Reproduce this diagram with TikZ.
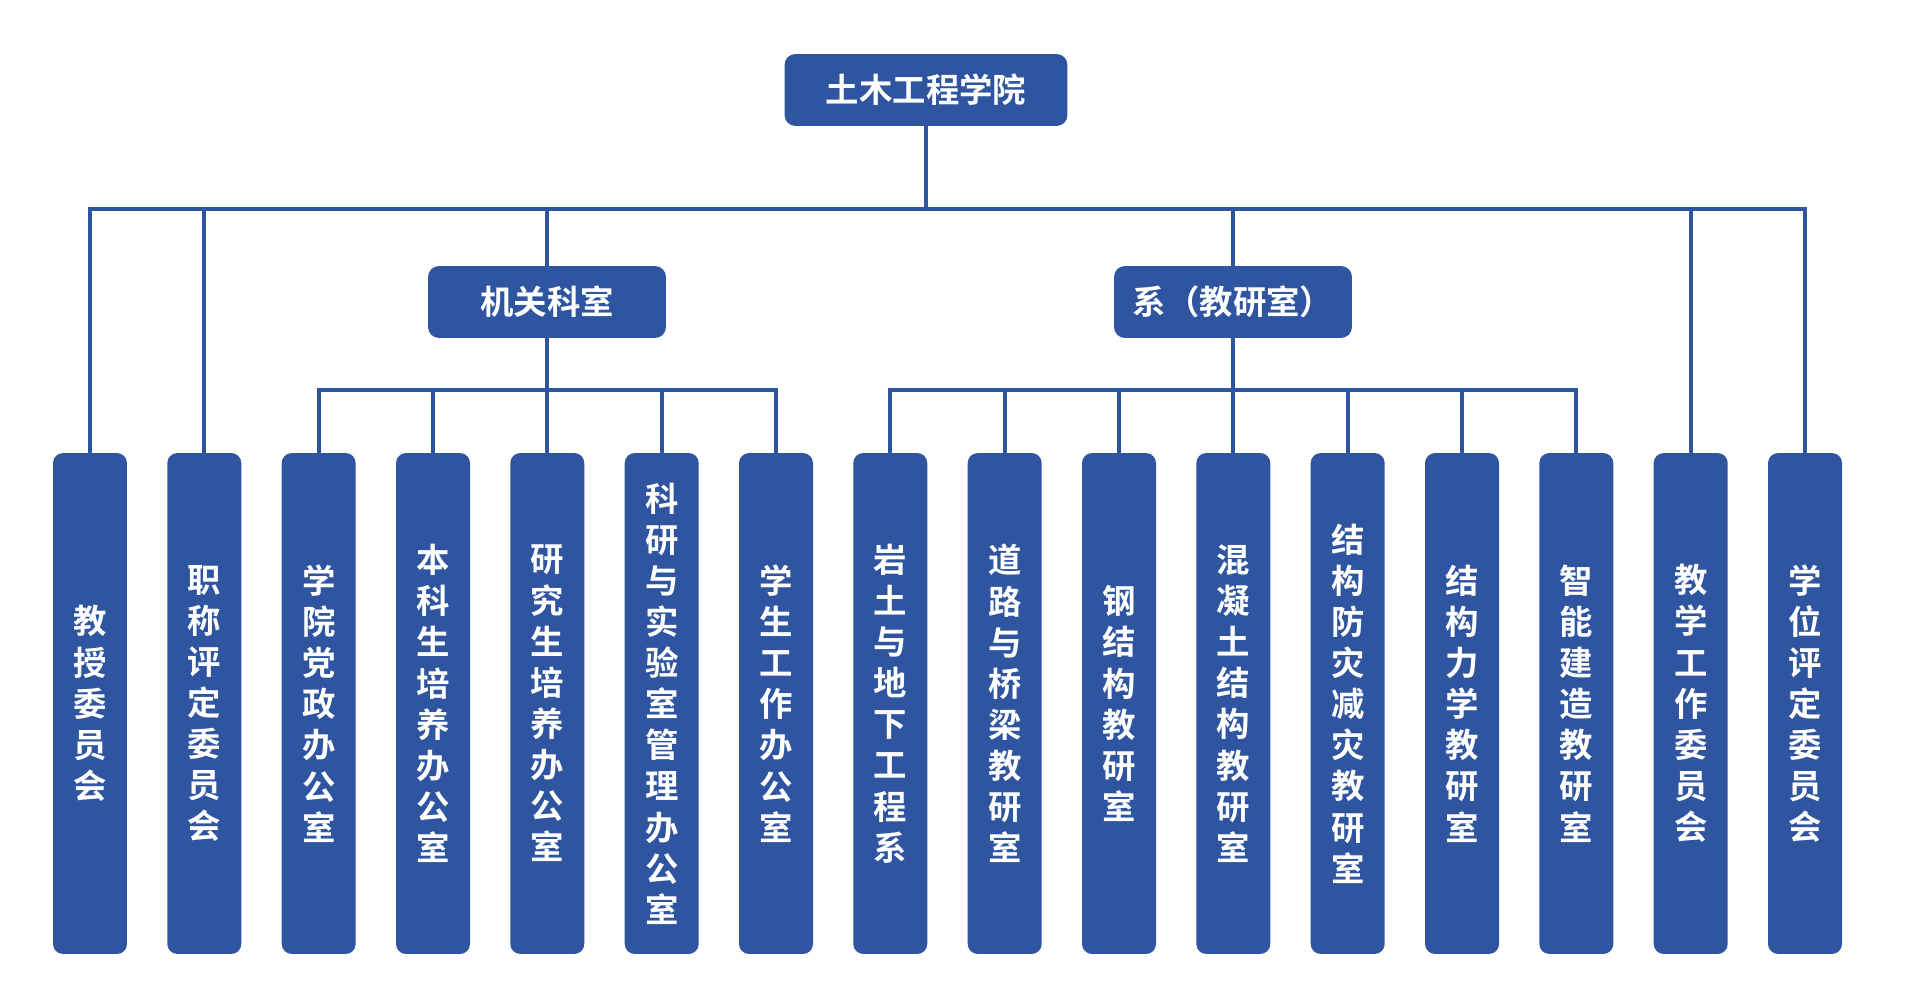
\documentclass[tikz,border=0pt]{standalone}
\usepackage{fontspec}
\newfontfamily\cjk[BoldFont={Noto Sans CJK SC Bold}]{Noto Sans CJK SC}
\definecolor{uniblue}{RGB}{47,85,160}
\tikzset{
  unit/.style={fill=uniblue, rounded corners=0.22cm, minimum height=1.44cm, inner sep=0pt, text=white, font=\cjk\bfseries\fontsize{19}{23}\selectfont},
  col/.style={fill=uniblue, rounded corners=0.2cm, minimum width=1.48cm, minimum height=10.02cm, inner sep=0pt, align=center, text=white, font=\cjk\bfseries\fontsize{19}{23.4}\selectfont},
  link/.style={draw=uniblue, line width=2.3pt}
}
\begin{document}
\begin{tikzpicture}[x=0.02cm, y=-0.02cm]
\useasboundingbox (0,0) rectangle (1912,997);
\node[unit, minimum width=5.66cm](C) at (926,90) {土木工程学院};
\node[unit, minimum width=4.76cm](O) at (547,302) {机关科室};
\node[unit, minimum width=4.76cm](D) at (1233,302) {系（教研室）};
\node[col](jsw) at (90,703.5) {教\\授\\委\\员\\会};
\node[col](zcw) at (204.3,703.5) {职\\称\\评\\定\\委\\员\\会};
\node[col](dzb) at (318.7,703.5) {学\\院\\党\\政\\办\\公\\室};
\node[col](bkb) at (433,703.5) {本\\科\\生\\培\\养\\办\\公\\室};
\node[col](yjb) at (547.3,703.5) {研\\究\\生\\培\\养\\办\\公\\室};
\node[col](kyb) at (661.7,703.5) {科\\研\\与\\实\\验\\室\\管\\理\\办\\公\\室};
\node[col](xgb) at (776,703.5) {学\\生\\工\\作\\办\\公\\室};
\node[col](ytx) at (890.3,703.5) {岩\\土\\与\\地\\下\\工\\程\\系};
\node[col](dlq) at (1004.7,703.5) {道\\路\\与\\桥\\梁\\教\\研\\室};
\node[col](ggj) at (1119,703.5) {钢\\结\\构\\教\\研\\室};
\node[col](hnt) at (1233.3,703.5) {混\\凝\\土\\结\\构\\教\\研\\室};
\node[col](fzj) at (1347.7,703.5) {结\\构\\防\\灾\\减\\灾\\教\\研\\室};
\node[col](lxj) at (1462,703.5) {结\\构\\力\\学\\教\\研\\室};
\node[col](znj) at (1576.3,703.5) {智\\能\\建\\造\\教\\研\\室};
\node[col](jxw) at (1690.7,703.5) {教\\学\\工\\作\\委\\员\\会};
\node[col](xww) at (1805,703.5) {学\\位\\评\\定\\委\\员\\会};
% buses
\coordinate(top) at (926,209);
\coordinate(ob) at (547,390);
\coordinate(db) at (1233,390);
\draw[link] (C.south) -- (top);
\draw[link] (jsw.north) -- (jsw.north |- top) -- (xww.north |- top) -- (xww.north);
\foreach \n in {zcw,O,D,jxw} \draw[link] (\n.north) -- (\n.north |- top);
\draw[link] (O.south) -- (ob);
\draw[link] (dzb.north) -- (dzb.north |- ob) -- (xgb.north |- ob) -- (xgb.north);
\foreach \n in {bkb,yjb,kyb} \draw[link] (\n.north) -- (\n.north |- ob);
\draw[link] (D.south) -- (db);
\draw[link] (ytx.north) -- (ytx.north |- db) -- (znj.north |- db) -- (znj.north);
\foreach \n in {dlq,ggj,hnt,fzj,lxj} \draw[link] (\n.north) -- (\n.north |- db);
\end{tikzpicture}
\end{document}
